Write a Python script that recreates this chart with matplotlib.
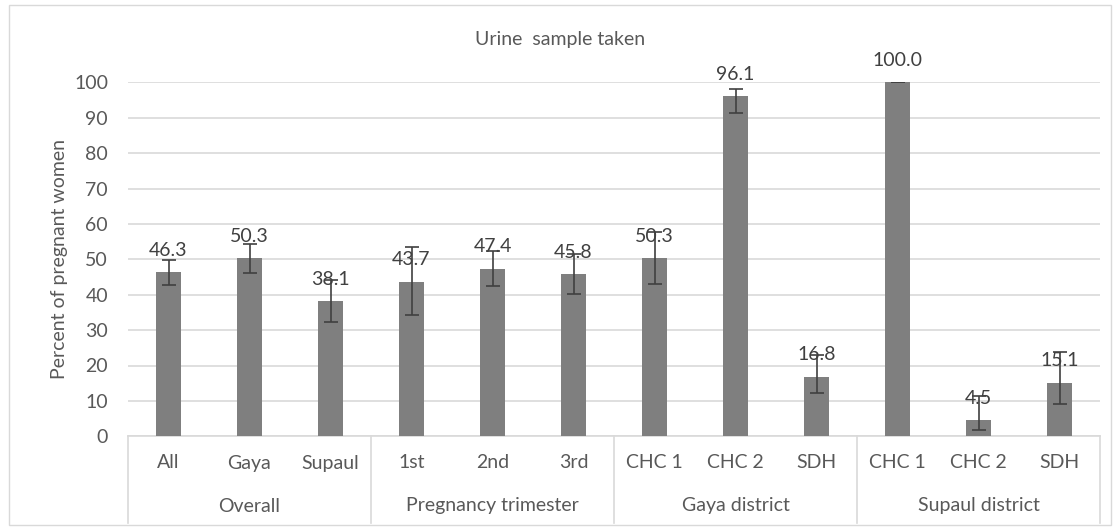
import matplotlib
matplotlib.use("Agg")
import matplotlib.pyplot as plt
from matplotlib.patches import Rectangle
from matplotlib.lines import Line2D

# Data
categories = ["All", "Gaya", "Supaul", "1st", "2nd", "3rd",
              "CHC 1", "CHC 2", "SDH", "CHC 1", "CHC 2", "SDH"]
groups = ["Overall", "Pregnancy trimester", "Gaya district", "Supaul district"]
group_sizes = [3, 3, 3, 3]
values = [46.3, 50.3, 38.1, 43.7, 47.4, 45.8, 50.3, 96.1, 16.8, 100.0, 4.5, 15.1]
err_low = [3.5, 4.2, 5.8, 9.4, 4.9, 5.7, 7.2, 4.7, 4.5, 0.0, 2.7, 5.9]
err_high = [3.5, 4.1, 6.0, 9.8, 5.0, 5.7, 7.4, 2.0, 6.2, 0.0, 6.8, 8.7]
title = "Urine  sample taken"
ylabel = "Percent of pregnant women"

W, H = 1120, 531
fig = plt.figure(figsize=(W / 100, H / 100), dpi=100)
plt.rcParams['font.family'] = ['Lato', 'DejaVu Sans']
txt = "#595959"
FS = 14

# outer border
fig.patches.append(Rectangle((9 / W, 1 - 525 / H), (1111 - 9) / W, (525 - 5) / H,
                             transform=fig.transFigure, fill=False,
                             edgecolor="#d9d9d9", linewidth=1))

left, right, top, bottom = 128, 1100, 82.3, 436.3
ax = fig.add_axes([left / W, 1 - bottom / H, (right - left) / W, (bottom - top) / H])

x = list(range(len(categories)))
ax.bar(x, values, width=0.31, color="#7f7f7f", zorder=3)
ax.errorbar(x, values, yerr=[err_low, err_high], fmt="none", ecolor="#404040",
            elinewidth=1.2, capsize=5, capthick=1.2, zorder=4)
for xi, v in zip(x, values):
    ax.annotate(f"{v:.1f}", (xi, v), xytext=(0, 22), textcoords="offset pixels",
                ha="center", va="center", fontsize=FS, color="#404040", zorder=5,
                annotation_clip=False)

ax.set_xlim(-0.5, len(categories) - 0.5)
ax.set_ylim(0, 100)
ax.set_yticks(range(0, 101, 10))
ax.tick_params(axis="y", length=0, pad=14.4, labelsize=FS, labelcolor=txt)
ax.set_xticks([])
ax.grid(axis="y", color="#d9d9d9", linewidth=1.2, zorder=0)
for s in ["top", "right", "left"]:
    ax.spines[s].set_visible(False)
ax.spines["bottom"].set_color("#d9d9d9")
ax.spines["bottom"].set_linewidth(1.2)
ax.set_ylabel(ylabel, fontsize=FS, color=txt, labelpad=4)

# category labels
tr = ax.get_xaxis_transform()
def py(p):
    return (bottom - p) / (bottom - top)

for xi, c in zip(x, categories):
    ax.text(xi, py(463), c, transform=tr, ha="center", va="center",
            fontsize=FS, color=txt)
start = 0
bounds = [-0.5]
for g, n in zip(groups, group_sizes):
    ax.text(start + (n - 1) / 2, py(506), g, transform=tr, ha="center", va="center",
            fontsize=FS, color=txt)
    start += n
    bounds.append(start - 0.5)
for b in bounds:
    ax.add_line(Line2D([b, b], [0, py(523)], transform=tr, color="#d9d9d9",
                       linewidth=1.2, clip_on=False))

fig.text(0.5, 1 - 40 / H, title, ha="center", va="center", fontsize=FS, color=txt)

fig.savefig("out.png", dpi=100)
